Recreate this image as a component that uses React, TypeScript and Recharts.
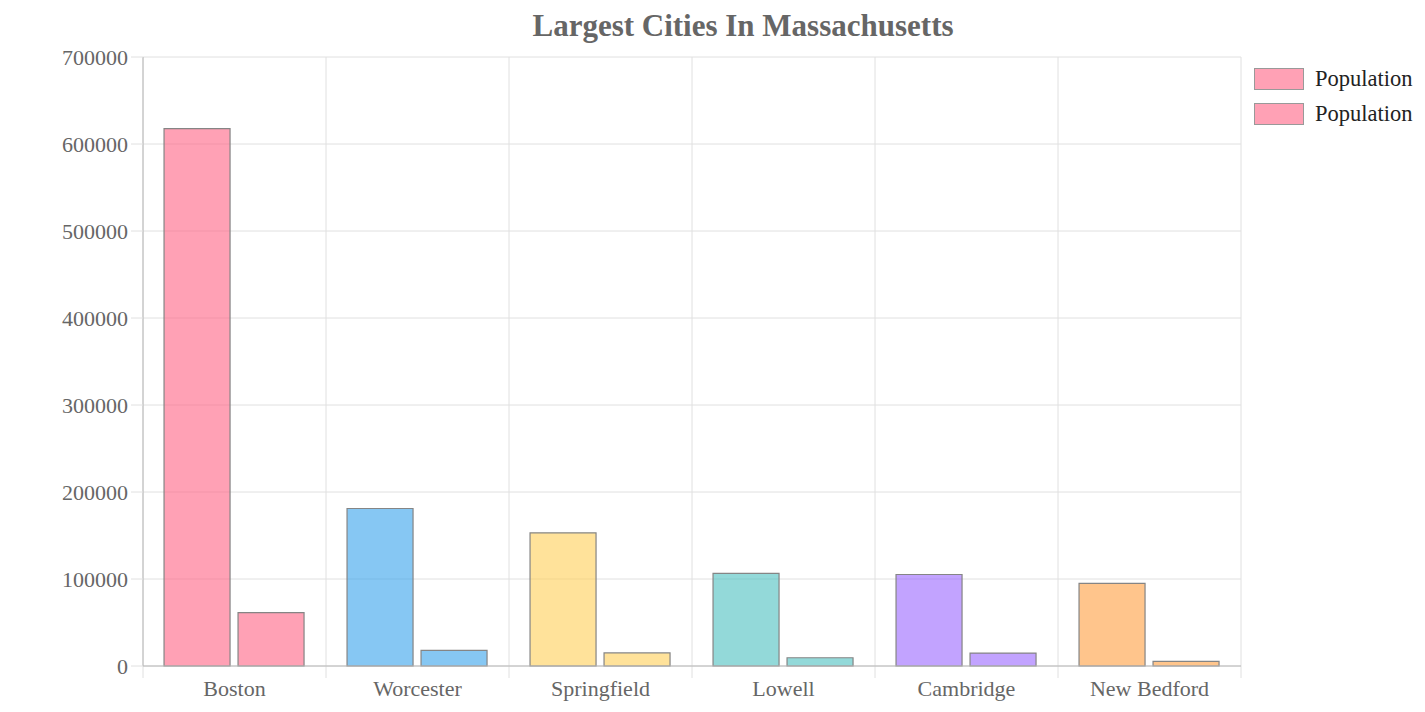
import React from "react"
import { BarChart, Bar, XAxis, YAxis, CartesianGrid, Cell } from "recharts"

const cities = ["Boston", "Worcester", "Springfield", "Lowell", "Cambridge", "New Bedford"]
const population = [617594, 181045, 153060, 106519, 105162, 95072]
const secondPopulation = [61300, 18000, 15000, 9500, 14900, 5400]
const yTicks = [0, 100000, 200000, 300000, 400000, 500000, 600000, 700000]
const barColors = [
    "rgba(255, 99, 132, 0.6)",
    "rgba(54, 162, 235, 0.6)",
    "rgba(255, 206, 86, 0.6)",
    "rgba(75, 192, 192, 0.6)",
    "rgba(153, 102, 255, 0.6)",
    "rgba(255, 159, 64, 0.6)",
]
const legendLabels = ["Population", "Population"]

const FONT = '"Liberation Serif", "Times New Roman", serif'

const chartData = cities.map((city, i) => ({
    city,
    population: population[i],
    second: secondPopulation[i],
}))

const VerticalLine = (props: any) => {
    const { x1, y1, y2 } = props
    return <line x1={x1} x2={x1} y1={y1} y2={y2 + 12} stroke="#e0e0e0" strokeWidth={1} />
}

const App: React.FC = () => {
    return (
        <div style={{ position: "relative", width: 1409, height: 700, fontFamily: FONT }}>
            <div
                style={{
                    position: "absolute",
                    left: 735,
                    top: 1,
                    transform: "translateX(-50%)",
                    fontSize: 31,
                    fontWeight: "bold",
                    color: "#666",
                    whiteSpace: "nowrap",
                    lineHeight: "34px",
                }}
            >
                Largest Cities In Massachusetts
            </div>
            <BarChart
                width={1409}
                height={700}
                data={chartData}
                margin={{ top: 49, right: 176, bottom: 0, left: 55 }}
                barCategoryGap="11.5%"
                barGap={8}
            >
                <CartesianGrid
                    stroke="#e0e0e0"
                    vertical={VerticalLine}
                    verticalCoordinatesGenerator={({ offset }: any) =>
                        cities.map((_, i) => offset.left + (i * offset.width) / cities.length).concat([offset.left + offset.width])
                    }
                />
                <XAxis
                    dataKey="city"
                    height={42}
                    tickLine={false}
                    tickSize={0}
                    tickMargin={14}
                    axisLine={{ stroke: "#b8b8b8" }}
                    tick={{ fill: "#666", fontSize: 22, fontFamily: FONT }}
                />
                <YAxis
                    width={80}
                    domain={[0, 700000]}
                    ticks={yTicks}
                    interval={0}
                    tickSize={12}
                    tickMargin={3}
                    tickLine={{ stroke: "#e0e0e0" }}
                    axisLine={{ stroke: "#b8b8b8" }}
                    tick={{ fill: "#666", fontSize: 22, fontFamily: FONT }}
                />
                <Bar dataKey="population" stroke="#858585" strokeWidth={1.2} isAnimationActive={false}>
                    {chartData.map((_, i) => (
                        <Cell key={i} fill={barColors[i]} />
                    ))}
                </Bar>
                <Bar dataKey="second" stroke="#858585" strokeWidth={1.2} isAnimationActive={false}>
                    {chartData.map((_, i) => (
                        <Cell key={i} fill={barColors[i]} />
                    ))}
                </Bar>
            </BarChart>
            <div style={{ position: "absolute", left: 1246, top: 60 }}>
                {legendLabels.map((label, i) => (
                    <div key={i} style={{ display: "flex", alignItems: "center", height: 22, marginBottom: 13 }}>
                        <div
                            style={{
                                width: 48,
                                height: 20,
                                background: barColors[0],
                                border: "1px solid #999",
                                marginRight: 11,
                            }}
                        />
                        <span style={{ fontSize: 22.5, color: "#222", lineHeight: "22px" }}>{label}</span>
                    </div>
                ))}
            </div>
        </div>
    )
}

export default App
